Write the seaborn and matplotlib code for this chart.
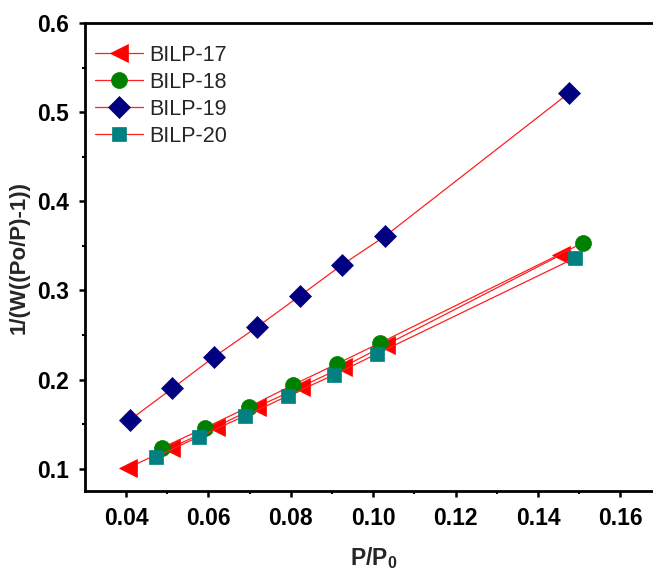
import numpy as np
import pandas as pd
import matplotlib
matplotlib.use("Agg")
import matplotlib.pyplot as plt
import seaborn as sns

# ---- data ----
x17 = [0.0405, 0.0509, 0.0618, 0.0718, 0.0825, 0.0927, 0.1031, 0.1456]
y17 = [0.101, 0.1235, 0.147, 0.1695, 0.192, 0.2143, 0.239, 0.340]
x18 = [0.0487, 0.0592, 0.0699, 0.0805, 0.0912, 0.1017, 0.1509]
y18 = [0.1235, 0.146, 0.1695, 0.194, 0.2177, 0.2413, 0.3534]
x19 = [0.0410, 0.0512, 0.0614, 0.0718, 0.0822, 0.0924, 0.1029, 0.1475]
y19 = [0.155, 0.190, 0.2256, 0.259, 0.294, 0.3287, 0.361, 0.5215]
x20 = [0.0473, 0.0577, 0.0689, 0.0793, 0.0905, 0.1009, 0.1490]
y20 = [0.1135, 0.136, 0.1594, 0.1818, 0.2054, 0.229, 0.3365]

names = ["BILP-17", "BILP-18", "BILP-19", "BILP-20"]
xticks = [0.04, 0.06, 0.08, 0.10, 0.12, 0.14, 0.16]
yticks = [0.1, 0.2, 0.3, 0.4, 0.5, 0.6]

sns.set_theme(style="ticks")
plt.rcParams["font.family"] = ["Liberation Sans", "DejaVu Sans"]
plt.rcParams["mathtext.fontset"] = "custom"
plt.rcParams["mathtext.rm"] = "Liberation Sans"
plt.rcParams["mathtext.bf"] = "Liberation Sans:bold"

fig = plt.figure(figsize=(6.53, 5.70), dpi=100)
ax = fig.add_axes([0.130, 0.1386, 0.8833, 0.821])

styles = [
    ("<", "#ff0000", 13),
    ("o", "#008000", 11.5),
    ("D", "#000080", 11),
    ("s", "#008080", 10),
]
series = [(x17, y17), (x18, y18), (x19, y19), (x20, y20)]
for (xs, ys), name, (m, c, ms) in zip(series, names, styles):
    df = pd.DataFrame({"x": xs, "y": ys})
    sns.lineplot(data=df, x="x", y="y", ax=ax, color="#ff2020", lw=0.9,
                 marker=m, markersize=ms, markerfacecolor=c,
                 markeredgecolor=c, markeredgewidth=0.5, label=name)

ax.set_xlim(0.03, 0.17)
ax.set_ylim(0.075, 0.6)
ax.set_xticks(xticks)
ax.set_yticks(yticks)
ax.set_xticklabels([f"{v:.2f}" for v in xticks])
ax.set_yticklabels([f"{v:.1f}" for v in yticks])
ax.set_xticks([0.05, 0.07, 0.09, 0.11, 0.13, 0.15], minor=True)
ax.set_yticks([0.15, 0.25, 0.35, 0.45, 0.55], minor=True)

for s in ["left", "bottom", "top", "right"]:
    ax.spines[s].set_linewidth(2.0)
    ax.spines[s].set_color("black")

ax.tick_params(axis="both", which="major", direction="out", length=4.5,
               width=1.8, pad=7, labelsize=16.5, colors="black")
ax.tick_params(axis="both", which="minor", direction="out", length=2.5,
               width=1.5, colors="black")
ax.tick_params(top=False, right=False, which="both")
for lab in ax.get_xticklabels() + ax.get_yticklabels():
    lab.set_fontweight("bold")

ax.set_xlabel(r"$\mathbf{P/P_0}$", fontsize=16.5, labelpad=11)
ax.set_ylabel("1/(W((Po/P)-1))", fontsize=16, fontweight="bold", labelpad=5)

leg = ax.legend(loc="upper left", bbox_to_anchor=(-0.012, 0.99), frameon=False,
                fontsize=15.5, handlelength=2.2, handletextpad=0.3,
                labelspacing=0.28, borderaxespad=0.4)

fig.savefig("out.png", dpi=100)
